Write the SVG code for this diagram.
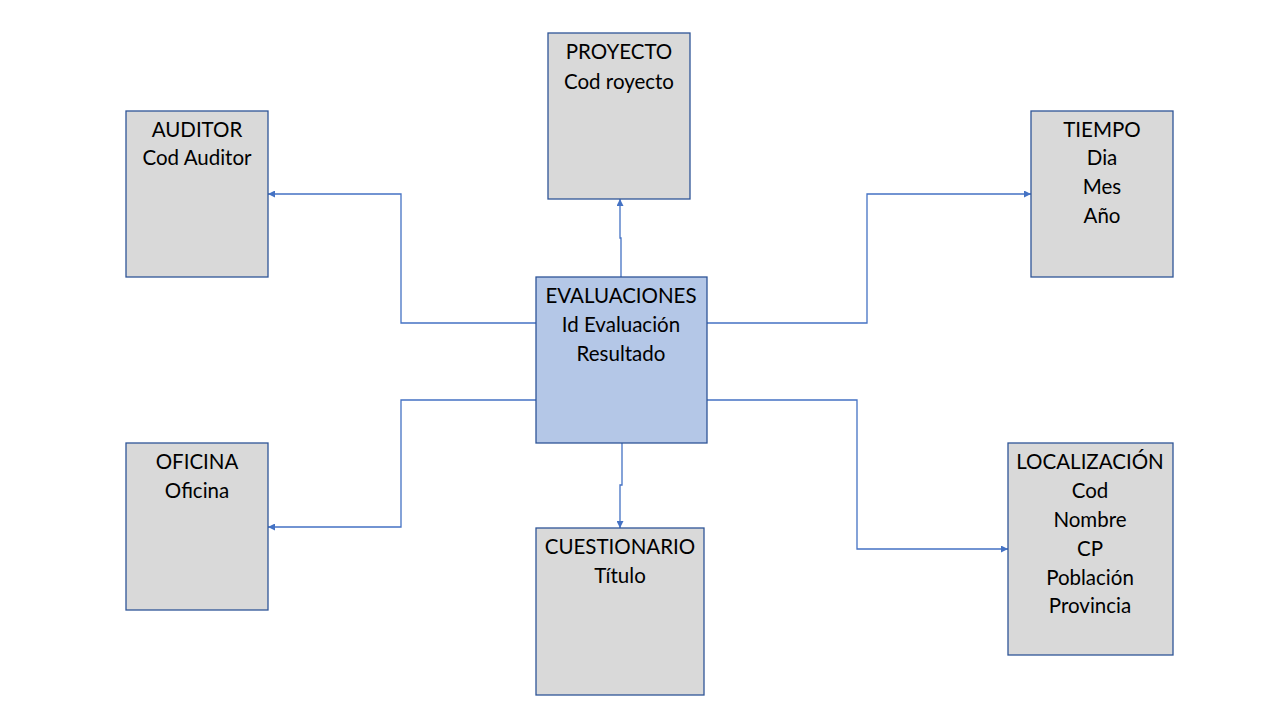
<svg xmlns="http://www.w3.org/2000/svg" width="1276" height="715" viewBox="0 0 1276 715">
<defs>
<style>
.box{fill:#d9d9d9;stroke:#2f5597;stroke-width:1.3}
.main{fill:#b4c7e7;stroke:#2f5597;stroke-width:1.3}
text{font-family:Lato,"Liberation Sans",sans-serif;font-size:20.5px;fill:#000;text-anchor:middle}
.conn{fill:none;stroke:#4472c4;stroke-width:1.3}
</style>
<marker id="arr" viewBox="0 0 10 10" refX="10" refY="5" markerWidth="7" markerHeight="7" markerUnits="userSpaceOnUse" orient="auto">
<path d="M0,0 L10,5 L0,10 Z" fill="#4472c4"/>
</marker>
</defs>
<rect width="1276" height="715" fill="#fff"/>
<g id="connectors">
<path class="conn" marker-end="url(#arr)" d="M621,277 V238 H620 V199"/>
<path class="conn" marker-end="url(#arr)" d="M536,323 H401 V194 H268"/>
<path class="conn" marker-end="url(#arr)" d="M707,323 H867 V194 H1031"/>
<path class="conn" marker-end="url(#arr)" d="M536,400 H401 V527 H268"/>
<path class="conn" marker-end="url(#arr)" d="M622,443 V485 H620 V528"/>
<path class="conn" marker-end="url(#arr)" d="M707,400 H857 V549 H1008"/>
</g>
<g id="proyecto">
<rect class="box" x="548" y="33" width="142" height="166"/>
<text x="619" y="59">PROYECTO</text>
<text x="619" y="89">Cod royecto</text>
</g>
<g id="auditor">
<rect class="box" x="126" y="111" width="142" height="166"/>
<text x="197" y="137">AUDITOR</text>
<text x="197" y="165">Cod Auditor</text>
</g>
<g id="tiempo">
<rect class="box" x="1031" y="111" width="142" height="166"/>
<text x="1102" y="137">TIEMPO</text>
<text x="1102" y="165">Dia</text>
<text x="1102" y="194">Mes</text>
<text x="1102" y="223">Año</text>
</g>
<g id="evaluaciones">
<rect class="main" x="536" y="277" width="171" height="166"/>
<text x="621" y="303">EVALUACIONES</text>
<text x="621" y="332">Id Evaluación</text>
<text x="621" y="361">Resultado</text>
</g>
<g id="oficina">
<rect class="box" x="126" y="443" width="142" height="167"/>
<text x="197" y="469">OFICINA</text>
<text x="197" y="498">Oficina</text>
</g>
<g id="cuestionario">
<rect class="box" x="536" y="528" width="168" height="167"/>
<text x="620" y="554">CUESTIONARIO</text>
<text x="620" y="583">Título</text>
</g>
<g id="localizacion">
<rect class="box" x="1008" y="443" width="165" height="212"/>
<text x="1090" y="469">LOCALIZACIÓN</text>
<text x="1090" y="498">Cod</text>
<text x="1090" y="527">Nombre</text>
<text x="1090" y="556">CP</text>
<text x="1090" y="585">Población</text>
<text x="1090" y="613">Provincia</text>
</g>
</svg>
